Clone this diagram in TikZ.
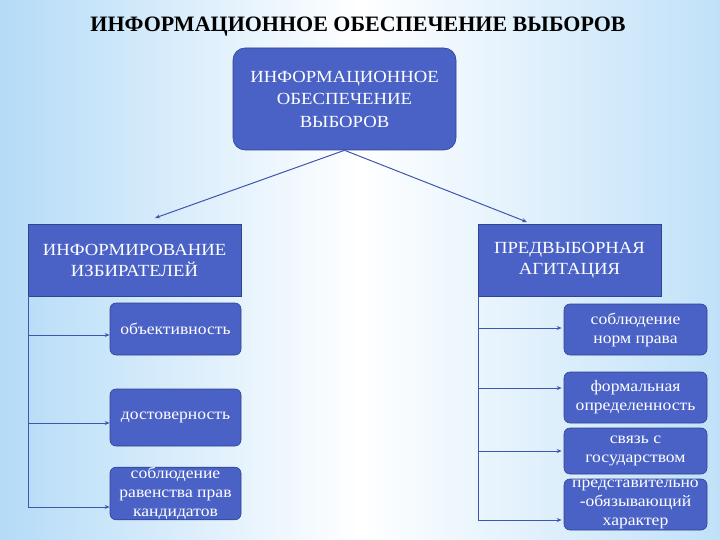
\documentclass[tikz,border=0pt]{standalone}
\usepackage{fontspec}
\setmainfont{Liberation Serif}
\newfontfamily\boxfont[FakeStretch=1.1]{Liberation Serif}
\usetikzlibrary{arrows.meta}
\definecolor{boxblue}{HTML}{4A62C6}
\definecolor{boxedge}{HTML}{2E4590}
\definecolor{linecol}{HTML}{3F56B0}
\definecolor{bgleft}{HTML}{B4DBF7}
\definecolor{bgright}{HTML}{C0E1F9}
\begin{document}
\begin{tikzpicture}[x=1pt,y=-1pt,
  mainbox/.style={draw=boxedge, line width=0.6pt, fill=boxblue, text=white, align=center, inner sep=0pt, font=\boxfont\fontsize{17}{21}\selectfont},
  subbox/.style={mainbox, rounded corners=6pt, font=\boxfont\fontsize{16}{19}\selectfont},
  conn/.style={draw=linecol, line width=1pt},
  arr/.style={conn, -{Stealth[length=5pt,width=4pt]}}]
\shade[left color=bgleft, right color=bgright, middle color=white] (0,0) rectangle (720,540);
\useasboundingbox (0,0) rectangle (720,540);
\node[font=\bfseries\fontsize{22}{26}\selectfont] (title) at (358,27) {ИНФОРМАЦИОННОЕ ОБЕСПЕЧЕНИЕ ВЫБОРОВ};
\node[mainbox, rounded corners=12pt, minimum width=223pt, minimum height=102pt, font=\boxfont\fontsize{17}{22.5}\selectfont] (top) at (344.5,99) {ИНФОРМАЦИОННОЕ\\ОБЕСПЕЧЕНИЕ\\ВЫБОРОВ};
\node[mainbox, minimum width=213pt, minimum height=72pt] (lm) at (134.5,260) {ИНФОРМИРОВАНИЕ\\ИЗБИРАТЕЛЕЙ};
\node[mainbox, minimum width=183pt, minimum height=72pt] (rm) at (569.5,260) {ПРЕДВЫБОРНАЯ\\АГИТАЦИЯ};
\node[subbox, minimum width=131pt, minimum height=52pt] (l1) at (175.5,329) {объективность};
\node[subbox, minimum width=131pt, minimum height=57pt] (l2) at (175.5,417.5) {достоверность};
\node[subbox, minimum width=131pt, minimum height=51pt] (l3) at (175.5,493.5) {соблюдение\\равенства прав\\кандидатов};
\node[subbox, minimum width=143pt, minimum height=51pt] (r1) at (635.5,329.5) {соблюдение\\норм права};
\node[subbox, minimum width=143pt, minimum height=51pt] (r2) at (635.5,397.5) {формальная\\определенность};
\node[subbox, minimum width=143pt, minimum height=46pt] (r3) at (635.5,451) {связь с\\государством};
\node[subbox, minimum width=143pt, minimum height=51pt] (r4) at (635.5,504.5) {представительно\\-обязывающий\\характер};
\coordinate (ls) at (155,218);
\coordinate (rs) at (527,222);
\draw[arr] (top.south) -- (ls);
\draw[arr] (top.south) -- (rs);
\draw[arr] ([xshift=1pt]lm.south west) |- ([yshift=-6pt]l1.west);
\draw[arr] ([xshift=1pt]lm.south west) |- ([yshift=-5.5pt]l2.west);
\draw[arr] ([xshift=1pt]lm.south west) |- ([yshift=-13.5pt]l3.west);
\draw[arr, shorten >=2pt] ([xshift=1pt]rm.south west) |- ([yshift=1.5pt]r1.west);
\draw[arr, shorten >=2pt] ([xshift=1pt]rm.south west) |- ([yshift=9.5pt]r2.west);
\draw[arr, shorten >=2pt] ([xshift=1pt]rm.south west) |- (r3.west);
\draw[arr, shorten >=2pt] ([xshift=1pt]rm.south west) |- ([yshift=-15.5pt]r4.west);
\end{tikzpicture}
\end{document}
